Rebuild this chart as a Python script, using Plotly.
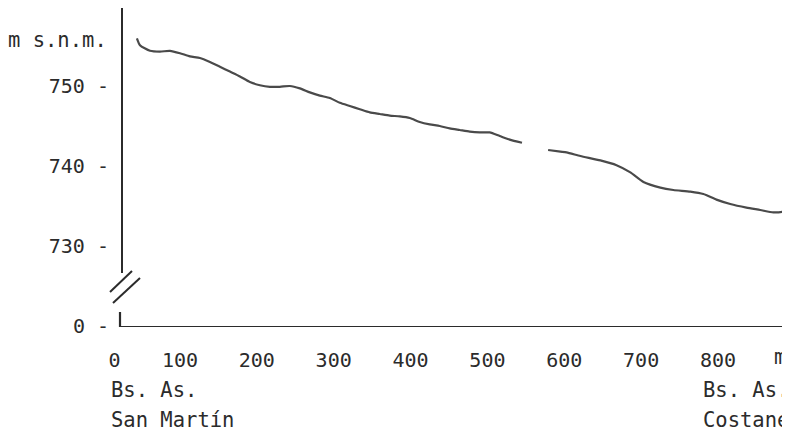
import plotly.graph_objects as go

# Distance (m) from Bs. As. San Martín and height (m s.n.m.)
distance = [44, 48, 61, 74, 87, 100, 113, 126, 139, 152, 165, 178, 191, 204, 217, 230,
            243, 256, 269, 282, 295, 308, 321, 334, 347, 360, 373, 386, 399, 412, 425,
            438, 451, 464, 477, 490, 503, 516, 529, 545, None,
            579, 595, 603, 621, 647, 668, 686, 703, 725, 742, 764, 781, 798, 816, 837,
            855, 872, 885, 894]
height = [755.96, 755.1, 754.4, 754.3, 754.4, 754.1, 753.7, 753.5, 753.0, 752.4, 751.8,
          751.2, 750.5, 750.1, 749.9, 749.9, 750.0, 749.7, 749.2, 748.8, 748.5, 747.9,
          747.5, 747.1, 746.7, 746.5, 746.3, 746.2, 746.0, 745.5, 745.2, 745.0, 744.7,
          744.5, 744.3, 744.2, 744.2, 743.75, 743.3, 742.9, None,
          742.0, 741.8, 741.7, 741.25, 740.7, 740.1, 739.2, 738.0, 737.3, 737.0, 736.8,
          736.5, 735.8, 735.25, 734.8, 734.5, 734.2, 734.3, 734.6]

x_tick_text = ["0", "100", "200", "300", "400", "500", "600", "700", "800"]
x_tick_vals = [15, 100, 200, 300, 400, 500, 600, 700, 800]
y_tick_text = ["0 -", "730 -", "740 -", "750 -"]
y_tick_vals = [720, 730, 740, 750]

FONT = "DejaVu Sans Mono"
INK = "#2b2b2b"
LINE = "#4a4a4a"

# page body has an 8px margin: figure origin sits at screen (8, 8)
OFF = 8
W, H = 782, 427
# plot area in screen pixels
SL, SR, ST, SB = 100, 790, 8, 327
ML, MR, MT, MB = SL - OFF, W - (SR - OFF), ST - OFF, H - (SB - OFF)
X0, X1 = -4.03, 893.7
Y0, Y1 = 719.875, 759.75


def px2x(px):
    return X0 + (px - SL) / (SR - SL) * (X1 - X0)


def py2y(py):
    return Y1 - (py - ST) / (SB - ST) * (Y1 - Y0)


def py2paper(py):
    return (SB - py) / (SB - ST)


fig = go.Figure()
fig.add_trace(go.Scatter(
    x=distance, y=height, mode="lines",
    line=dict(color=LINE, width=2.2, shape="spline", smoothing=0.6),
    connectgaps=False, hoverinfo="skip", showlegend=False,
))

axis_x = (122 - SL) / (SR - SL)

shapes = [
    # upper y-axis segment
    dict(type="line", xref="x", yref="y", x0=px2x(122), x1=px2x(122),
         y0=py2y(8), y1=py2y(273), line=dict(color=INK, width=2)),
    # axis break slashes
    dict(type="line", xref="x", yref="y", x0=px2x(110), x1=px2x(132),
         y0=py2y(292), y1=py2y(271), line=dict(color=INK, width=2)),
    dict(type="line", xref="x", yref="y", x0=px2x(113), x1=px2x(140),
         y0=py2y(303), y1=py2y(278), line=dict(color=INK, width=2)),
    # lower corner
    dict(type="line", xref="x", yref="y", x0=px2x(120), x1=px2x(120),
         y0=py2y(312), y1=py2y(327), line=dict(color=INK, width=2.2)),
    # x axis
    dict(type="line", xref="x", yref="y", x0=px2x(120), x1=px2x(792),
         y0=py2y(327), y1=py2y(327), line=dict(color=INK, width=2.2)),
]

annots = [
    dict(text="m s.n.m.", xref="paper", yref="y", x=axis_x, y=py2y(40),
         xanchor="right", yanchor="middle", xshift=-13),
    dict(text="Bs. As.", xref="x", yref="paper", x=px2x(701), y=py2paper(390),
         xanchor="left", yanchor="middle"),
    dict(text="Bs. As.", xref="x", yref="paper", x=px2x(109), y=py2paper(390),
         xanchor="left", yanchor="middle"),
    dict(text="San Martín", xref="x", yref="paper", x=px2x(109), y=py2paper(420),
         xanchor="left", yanchor="middle"),
    dict(text="Costanera", xref="x", yref="paper", x=px2x(701), y=py2paper(420),
         xanchor="left", yanchor="middle"),
    dict(text="m", xref="x", yref="paper", x=px2x(772), y=py2paper(357),
         xanchor="left", yanchor="middle"),
]
for a in annots:
    a.update(showarrow=False, font=dict(family=FONT, size=20.5, color=INK))

fig.update_layout(
    width=W, height=H,
    margin=dict(l=ML, r=MR, t=MT, b=MB, pad=0),
    paper_bgcolor="white", plot_bgcolor="white",
    font=dict(family=FONT, size=20, color=INK),
    xaxis=dict(range=[X0, X1], tickvals=x_tick_vals, ticktext=x_tick_text,
               showgrid=False, zeroline=False, showline=False, ticks="",
               ticklabelstandoff=19, tickfont=dict(family=FONT, size=20, color=INK)),
    yaxis=dict(range=[Y0, Y1], tickvals=y_tick_vals, ticktext=y_tick_text,
               showgrid=False, zeroline=False, showline=False, ticks="",
               anchor="free", position=axis_x, ticklabelstandoff=13,
               tickfont=dict(family=FONT, size=20, color=INK)),
    shapes=shapes,
    annotations=annots,
)

fig.write_html("out.html")
